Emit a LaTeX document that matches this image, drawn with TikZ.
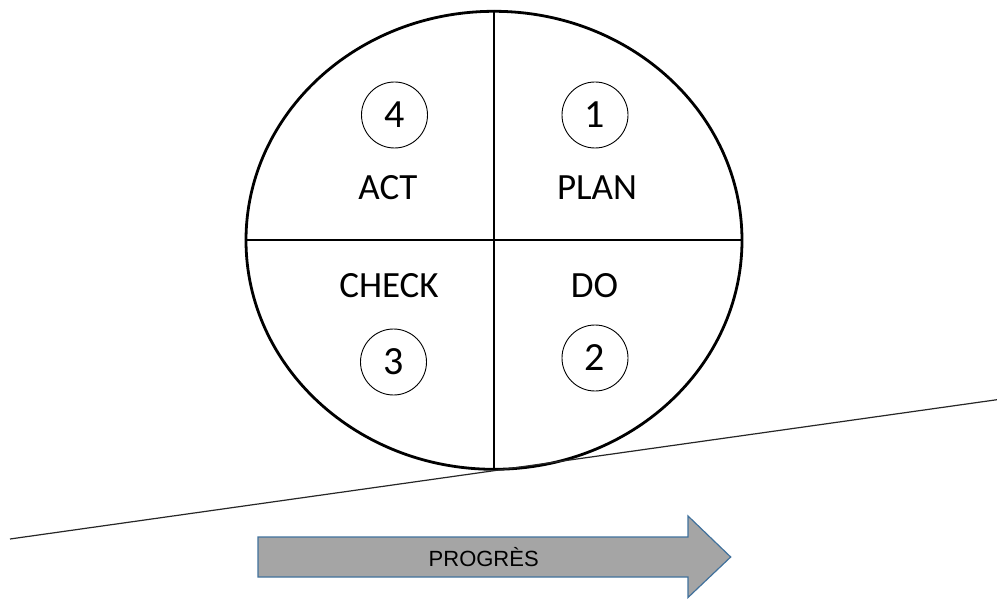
\documentclass[tikz,border=0pt]{standalone}
\usepackage{fontspec}
\setmainfont{Carlito}
\newfontfamily\arialfont{Liberation Sans}
\usetikzlibrary{shapes,positioning}
\definecolor{arrowfill}{HTML}{A5A5A5}
\definecolor{arrowedge}{HTML}{41719C}
\tikzset{
wheel/.style = {draw, ellipse, line width=2.8pt, minimum width=496pt, minimum height=458pt, inner sep=0pt},
divider/.style = {line width=2.3pt},
numc/.style = {draw, circle, line width=0.9pt, minimum size=66pt, inner sep=0pt, font=\fontsize{40}{40}\selectfont},
phase/.style = {font=\fontsize{37}{37}\selectfont},
ground/.style = {line width=1.2pt, black!85},
progarrow/.style = {draw=arrowedge, fill=arrowfill, line width=1.2pt, line join=miter}
}
\begin{document}
\begin{tikzpicture}[x=1pt,y=-1pt]
\useasboundingbox (0,0) rectangle (997,599);
\node[wheel] (wheel) at (494,240.3) {};
\draw[divider] (wheel.north) -- (wheel.south);
\draw[divider] (wheel.west) -- (wheel.east);
\node[numc] (n4) at (394.5,115) {4};
\node[numc] (n1) at (595,115) {1};
\node[numc] (n3) at (393.5,362) {3};
\node[numc] (n2) at (595,358) {2};
\node[phase] (act) at (388,188) {ACT};
\node[phase] (plan) at (597,188) {PLAN};
\node[phase] (check) at (389,286) {CHECK};
\node[phase] (do) at (594.5,286) {DO};
% pente
\coordinate (gleft) at (10,539);
\coordinate (gright) at (997,399.7);
\draw[ground] (gleft) -- (gright);
% fleche
\draw[progarrow] (258,537) -- (688,537) -- (688,516) -- (730.7,557) -- (688,597.5) -- (688,577) -- (258,577) -- cycle;
\node[font=\arialfont\fontsize{22}{22}\selectfont] (prog) at (483.7,557) {PROGRÈS};
\end{tikzpicture}
\end{document}
